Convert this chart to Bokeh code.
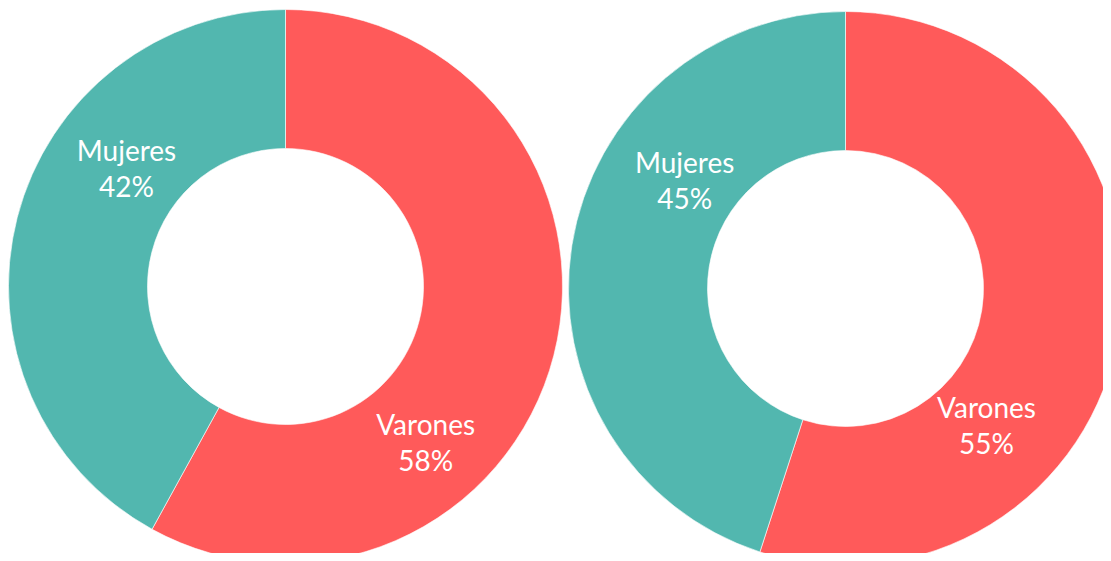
import numpy as np
from bokeh.plotting import figure
from bokeh.models import Range1d, ColumnDataSource
from bokeh.core.properties import value
from bokeh.embed import file_html
from bokeh.resources import INLINE

# Data
categories = ["Varones", "Mujeres"]
chart1_values = [58, 42]
chart2_values = [55, 45]
colors = ["#FF5A5A", "#52B7AF"]

# Layout (pixel-like data units)
W, H = 1103, 553
centers = [(285, 267), (845, 265)]
r_outer = 277
r_inner = 138
# label placement (angle in degrees, radius) per chart, per category
label_pos = [
    [(-47.9, 209), (143.4, 198)],
    [(-44.0, 196), (146.0, 194)],
]
line_gap = 18

p = figure(width=W, height=H, output_backend="svg", toolbar_location=None,
           x_range=Range1d(0, W), y_range=Range1d(0, H), min_border=0)
p.axis.visible = False
p.grid.visible = False
p.outline_line_color = None
p.background_fill_color = "white"
p.border_fill_color = "white"

for ci, vals in enumerate([chart1_values, chart2_values]):
    cx, cy = centers[ci]
    v = np.array(vals, dtype=float)
    frac = v / v.sum()
    cum = np.concatenate([[0], np.cumsum(frac)])
    start = np.pi / 2 - cum[:-1] * 2 * np.pi
    end = np.pi / 2 - cum[1:] * 2 * np.pi
    src = ColumnDataSource(dict(start=start, end=end, color=colors))
    p.annular_wedge(x=cx, y=cy, inner_radius=r_inner, outer_radius=r_outer,
                    start_angle="start", end_angle="end", direction="clock",
                    fill_color="color", line_color="white", line_width=0.6,
                    source=src)
    lx, ly = [], []
    for k, cat in enumerate(categories):
        a, r = label_pos[ci][k]
        lx.append(cx + r * np.cos(np.radians(a)))
        ly.append(cy + r * np.sin(np.radians(a)))
    lx = np.array(lx)
    ly = np.array(ly)
    p.text(x=lx, y=ly + line_gap, text=categories, text_color="white",
           text_align="center", text_baseline="middle",
           text_font=value("Lato"), text_font_size="28px")
    p.text(x=lx, y=ly - line_gap, text=[f"{int(x)}%" for x in vals],
           text_color="white", text_align="center", text_baseline="middle",
           text_font=value("Lato"), text_font_size="28px")

open("out.html", "w").write(file_html(p, INLINE))
